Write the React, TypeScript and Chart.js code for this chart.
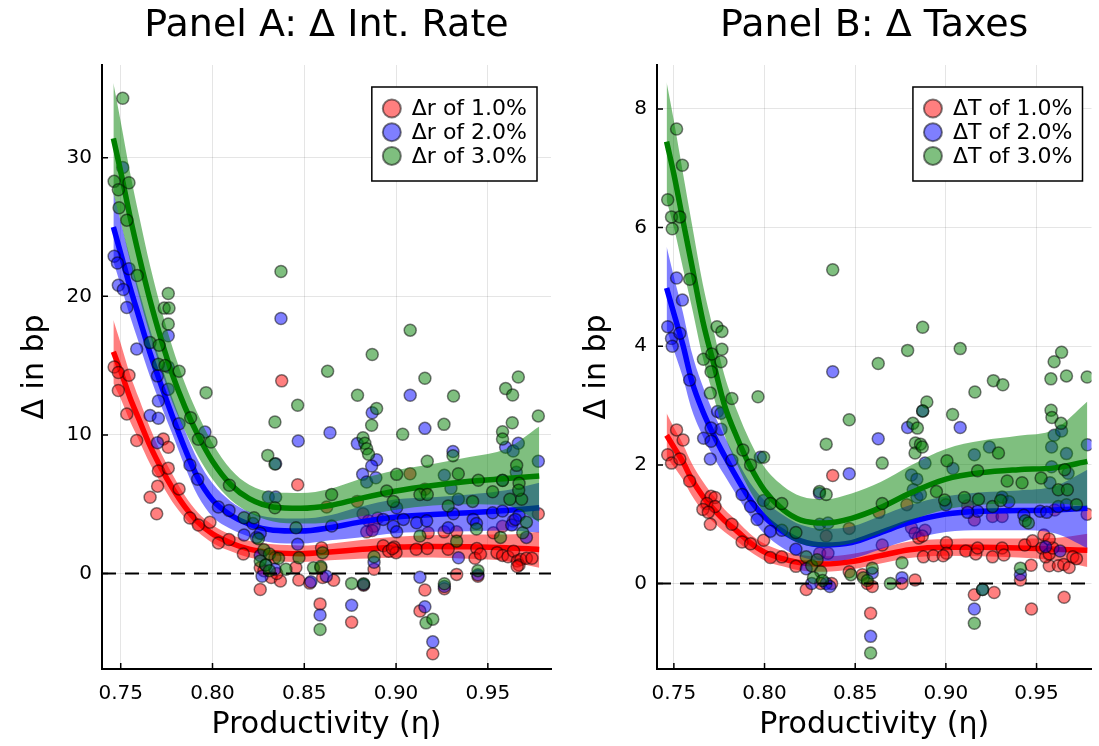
import React, { useEffect, useRef } from "react";
import { Chart, registerables } from "chart.js";
Chart.register(...registerables);

const FONT = "'DejaVu Sans', sans-serif";

// ---------- axes / ticks ----------
const xTicks = [0.75, 0.8, 0.85, 0.9, 0.95];
const yTicksA = [0, 10, 20, 30];
const yTicksB = [0, 2, 4, 6, 8];
const xLimA = [0.7398, 0.9844];
const yLimA = [-6.9, 36.7];
const xLimB = [0.7407, 0.9803];
const yLimB = [-1.44, 8.74];

const labelsA = ["Δr of 1.0%", "Δr of 2.0%", "Δr of 3.0%"];
const labelsB = ["ΔT of 1.0%", "ΔT of 2.0%", "ΔT of 3.0%"];

// ---------- fitted curves (shared eta grid) ----------
const fitEta = [0.746, 0.75, 0.755, 0.76, 0.766, 0.772, 0.778, 0.785, 0.792, 0.8, 0.81, 0.82, 0.833, 0.848, 0.864, 0.88, 0.9, 0.92, 0.94, 0.96, 0.978];

const aRedFit = [16.0, 14.6, 12.7, 11.1, 9.2, 7.6, 6.2, 4.8, 3.7, 2.85, 2.2, 1.75, 1.5, 1.42, 1.55, 1.72, 1.9, 1.95, 1.92, 1.85, 1.73];
const aRedLo = [13.7, 12.6, 11.0, 9.6, 7.9, 6.5, 5.2, 4.0, 3.0, 2.2, 1.6, 1.15, 0.9, 0.82, 0.95, 1.05, 1.15, 1.15, 1.05, 0.9, 0.4];
const aRedHi = [18.3, 16.6, 14.4, 12.6, 10.5, 8.7, 7.2, 5.6, 4.4, 3.5, 2.8, 2.35, 2.1, 2.02, 2.15, 2.4, 2.65, 2.75, 2.8, 2.8, 3.0];
const aBlueFit = [25.0, 23.1, 20.7, 18.5, 15.9, 13.6, 11.4, 9.0, 6.9, 5.3, 4.2, 3.55, 3.12, 3.06, 3.3, 3.7, 4.07, 4.25, 4.38, 4.55, 4.74];
const aBlueLo = [22.5, 20.8, 18.6, 16.6, 14.2, 12.1, 10.1, 7.7, 5.6, 4.1, 3.2, 2.65, 2.22, 2.16, 2.4, 2.6, 2.9, 3.0, 3.05, 3.1, 2.95];
const aBlueHi = [27.5, 25.4, 22.8, 20.4, 17.6, 15.1, 12.7, 10.3, 8.2, 6.5, 5.2, 4.45, 4.02, 3.96, 4.2, 4.8, 5.35, 5.5, 5.7, 6.0, 6.55];
const aGreenFit = [31.4, 29.0, 25.8, 22.9, 19.7, 16.9, 14.4, 12.0, 10.0, 8.1, 6.4, 5.4, 4.8, 4.7, 4.9, 5.4, 5.95, 6.35, 6.65, 6.85, 7.03];
const aGreenLo = [27.4, 25.4, 22.6, 20.0, 17.2, 14.7, 12.4, 10.3, 8.5, 6.8, 5.3, 4.4, 3.75, 3.6, 3.7, 4.1, 4.6, 4.9, 5.0, 4.9, 3.7];
const aGreenHi = [35.4, 32.6, 29.0, 25.8, 22.2, 19.1, 16.4, 13.7, 11.5, 9.4, 7.5, 6.4, 5.85, 5.8, 6.1, 6.8, 7.45, 7.9, 8.4, 9.0, 10.6];

const bRedFit = [2.5, 2.3, 2.05, 1.75, 1.47, 1.25, 1.06, 0.88, 0.69, 0.53, 0.42, 0.35, 0.33, 0.37, 0.47, 0.57, 0.61, 0.61, 0.6, 0.58, 0.56];
const bRedLo = [2.13, 1.97, 1.75, 1.48, 1.22, 1.03, 0.87, 0.71, 0.54, 0.39, 0.29, 0.22, 0.2, 0.24, 0.34, 0.43, 0.47, 0.46, 0.44, 0.39, 0.28];
const bRedHi = [2.87, 2.63, 2.35, 2.02, 1.72, 1.47, 1.25, 1.05, 0.84, 0.67, 0.55, 0.48, 0.46, 0.5, 0.6, 0.71, 0.75, 0.76, 0.76, 0.77, 0.84];
const bBlueFit = [4.98, 4.55, 4.02, 3.4, 2.9, 2.5, 2.15, 1.77, 1.42, 1.12, 0.88, 0.72, 0.65, 0.69, 0.86, 1.03, 1.17, 1.22, 1.23, 1.24, 1.27];
const bBlueLo = [4.28, 3.93, 3.47, 2.92, 2.48, 2.13, 1.82, 1.47, 1.14, 0.84, 0.6, 0.45, 0.38, 0.42, 0.58, 0.74, 0.87, 0.9, 0.9, 0.85, 0.6];
const bBlueHi = [5.68, 5.17, 4.57, 3.88, 3.32, 2.87, 2.48, 2.07, 1.7, 1.4, 1.16, 0.99, 0.92, 0.96, 1.14, 1.32, 1.47, 1.54, 1.57, 1.64, 1.92];
const bGreenFit = [7.45, 6.9, 6.12, 5.35, 4.42, 3.7, 3.0, 2.45, 1.98, 1.57, 1.25, 1.07, 1.02, 1.1, 1.28, 1.52, 1.76, 1.87, 1.92, 1.95, 2.06];
const bGreenLo = [6.45, 6.0, 5.32, 4.65, 3.8, 3.15, 2.5, 2.0, 1.56, 1.18, 0.85, 0.67, 0.62, 0.68, 0.85, 1.06, 1.25, 1.33, 1.35, 1.35, 1.3];
const bGreenHi = [8.45, 7.8, 6.92, 6.05, 5.04, 4.25, 3.5, 2.9, 2.4, 1.96, 1.65, 1.47, 1.42, 1.52, 1.71, 1.98, 2.27, 2.41, 2.49, 2.6, 3.07];

// ---------- scatter points, Panel A ----------
const aRedX = [0.7464,0.7487,0.7545,0.7487,0.7533,0.7587,0.766,0.7696,0.7701,0.7705,0.7732,0.7759,0.7759,0.7818,0.7877,0.7923,0.7986,0.8032,0.809,0.8168,0.8377,0.8464,0.826,0.826,0.832,0.837,0.847,0.853,0.834,0.8454,0.8594,0.828,0.835,0.8622,0.8789,0.9076,0.9157,0.882,0.885,0.888,0.884,0.89,0.887,0.9175,0.9262,0.933,0.953,0.958,0.9638,0.9775,0.893,0.896,0.899,0.9,0.898,0.911,0.917,0.9284,0.944,0.943,0.946,0.955,0.958,0.961,0.964,0.966,0.968,0.967,0.971,0.974,0.966,0.888,0.859,0.86,0.866,0.933,0.9446,0.8823,0.8586,0.8758,0.9157,0.913,0.92,0.9263];
const aRedY = [14.9,14.5,14.3,13.2,11.5,9.6,5.5,4.3,6.3,7.4,9.7,9.1,7.6,6.1,4.0,3.5,3.7,2.2,2.45,1.4,13.9,6.4,0.4,-1.16,-0.3,-0.55,-0.48,-0.7,1.13,0.43,1.85,0.2,0.0,4.8,5.2,7.2,6.07,4.3,3.8,3.4,3.0,4.0,3.1,2.94,3.0,3.0,2.94,3.4,3.78,4.3,2.0,1.6,1.9,1.5,1.8,1.75,1.8,1.75,1.8,1.1,1.4,1.5,1.3,1.2,1.6,0.9,1.0,0.6,1.1,1.1,0.5,0.3,0.4,-0.3,-0.5,-0.07,-0.2,-0.85,-2.2,-3.52,-1.2,-2.72,-5.8,-1.1];
const aBlueX = [0.7511,0.7464,0.7482,0.7545,0.7487,0.7514,0.7533,0.7759,0.7587,0.7759,0.77,0.7759,0.7705,0.766,0.7705,0.7818,0.77,0.7959,0.7877,0.7919,0.8032,0.809,0.8172,0.822,0.824,0.826,0.826,0.829,0.834,0.827,0.8304,0.8344,0.8344,0.8467,0.8464,0.8536,0.864,0.8373,0.887,0.9077,0.9157,0.8789,0.8894,0.9775,0.931,0.9597,0.9638,0.9666,0.8867,0.8818,0.884,0.889,0.9263,0.958,0.9655,0.9299,0.9339,0.8649,0.9003,0.893,0.904,0.8985,0.9003,0.9112,0.9167,0.9284,0.9312,0.942,0.9438,0.9526,0.958,0.963,0.967,0.965,0.971,0.934,0.888,0.862,0.9446,0.8823,0.8586,0.8758,0.913,0.9157,0.92,0.9263];
const aBlueY = [29.3,22.9,22.4,22.0,20.8,20.5,19.2,17.15,16.2,14.9,14.26,13.3,12.45,11.4,11.2,10.8,9.44,10.2,7.83,6.8,4.79,4.55,2.77,3.6,2.6,2.9,1.3,0.6,0.3,-0.2,5.51,5.51,7.92,9.56,2.1,-0.6,10.16,18.4,11.6,12.86,10.47,9.37,8.2,8.1,8.8,9.1,8.84,9.39,7.75,7.15,6.6,6.9,7.08,6.72,7.3,6.14,5.35,3.42,4.74,3.9,3.9,3.4,3.0,3.65,3.8,3.3,4.3,3.9,3.6,4.38,4.5,3.5,4.2,3.9,2.6,1.13,0.8,-0.2,-0.1,-0.8,-3.0,-2.3,-0.27,-2.41,-4.94,-0.95];
const aGreenX = [0.7511,0.7464,0.7487,0.7545,0.7491,0.7533,0.759,0.7759,0.7737,0.7763,0.7759,0.766,0.7709,0.7705,0.7741,0.7818,0.7965,0.7881,0.7923,0.7992,0.8092,0.8172,0.8226,0.8301,0.834,0.8464,0.834,0.8455,0.8471,0.825,0.828,0.831,0.826,0.829,0.836,0.84,0.831,0.855,0.859,0.86,0.834,0.8373,0.8627,0.887,0.9077,0.879,0.9157,0.9313,0.9597,0.9666,0.9635,0.8894,0.8867,0.9036,0.9261,0.9633,0.958,0.958,0.882,0.883,0.884,0.885,0.9775,0.931,0.917,0.9003,0.9339,0.958,0.9657,0.9448,0.967,0.8649,0.8949,0.8985,0.913,0.917,0.9417,0.9526,0.962,0.9684,0.9668,0.9284,0.9438,0.9569,0.969,0.971,0.913,0.933,0.888,0.8758,0.8823,0.9446,0.8586,0.9163,0.92,0.9263];
const aGreenY = [34.3,28.3,27.7,28.2,26.4,25.5,21.5,20.2,19.15,19.15,18.0,16.66,16.47,15.1,15.0,14.6,13.05,11.24,9.68,9.49,6.36,4.02,4.02,8.52,7.9,12.14,10.93,3.3,1.13,2.5,1.7,1.4,0.9,0.6,1.1,0.3,0.2,0.4,0.5,1.5,4.74,21.8,14.6,15.8,17.56,12.86,14.09,12.8,13.34,14.18,12.88,11.9,10.7,10.04,10.76,10.88,10.23,9.7,9.8,9.4,9.0,8.6,11.37,8.5,8.1,7.15,7.2,6.7,7.8,6.72,6.5,5.7,5.95,5.2,5.7,5.7,5.2,5.9,5.35,5.35,6.0,4.86,3.2,2.6,2.94,3.7,2.7,2.33,1.2,-0.72,-0.75,0.2,-4.05,-3.57,-3.3,-0.75];

// ---------- scatter points, Panel B ----------
const bRedX = [0.7515,0.7551,0.7466,0.7487,0.7533,0.7587,0.7705,0.7727,0.7682,0.7727,0.766,0.769,0.7701,0.782,0.7876,0.7923,0.7995,0.8032,0.8095,0.8173,0.8376,0.8467,0.834,0.8304,0.835,0.823,0.831,0.837,0.8467,0.8539,0.8585,0.8785,0.8631,0.912,0.9257,0.931,0.9157,0.96,0.9779,0.881,0.883,0.885,0.8885,0.887,0.9003,0.9003,0.8876,0.8931,0.8985,0.911,0.9165,0.9175,0.9257,0.931,0.932,0.9435,0.9478,0.953,0.957,0.955,0.962,0.965,0.968,0.97,0.972,0.957,0.959,0.954,0.957,0.8649,0.947,0.8567,0.8594,0.8758,0.883,0.9266,0.9157,0.9472,0.9652,0.9411];
const bRedY = [2.59,2.42,2.17,2.03,2.1,1.73,1.47,1.45,1.35,1.3,1.25,1.2,1.0,1.0,0.7,0.67,0.73,0.44,0.45,0.29,1.82,0.93,0.8,0.51,0.51,-0.1,0.0,0.0,0.2,0.15,-0.5,1.33,1.2,1.31,1.13,1.13,1.07,1.24,1.17,0.94,0.85,0.77,0.9,0.8,0.69,0.51,0.45,0.47,0.47,0.55,0.5,0.6,0.45,0.6,0.48,0.65,0.72,0.6,0.3,0.45,0.3,0.32,0.27,0.45,0.42,0.5,0.6,0.82,0.75,0.65,0.31,0.0,-0.05,0.0,0.06,-0.15,-0.19,-0.43,-0.23,0.06];
const bBlueX = [0.7515,0.7547,0.7466,0.7487,0.7533,0.7491,0.7587,0.8376,0.7741,0.776,0.776,0.7705,0.7664,0.7705,0.7701,0.782,0.8467,0.8303,0.7977,0.7876,0.7923,0.7995,0.7959,0.8032,0.8095,0.8173,0.8304,0.835,0.823,0.826,0.834,0.836,0.8585,0.8872,0.9079,0.8627,0.8789,0.9597,0.9638,0.978,0.8885,0.9157,0.924,0.9583,0.9665,0.9583,0.9674,0.881,0.884,0.9,0.9039,0.9574,0.882,0.884,0.886,0.9175,0.912,0.931,0.9347,0.943,0.952,0.9556,0.962,0.9665,0.8594,0.8758,0.9202,0.9157,0.9411,0.955,0.963];
const bBlueY = [5.15,4.78,4.33,4.13,4.22,4.0,3.43,3.57,2.9,2.87,2.6,2.62,2.45,2.4,2.1,2.08,1.85,1.52,2.13,1.5,1.3,1.4,1.08,0.88,0.9,0.58,1.0,1.02,0.25,0.0,0.0,-0.05,-0.89,2.91,2.63,2.44,2.63,2.5,2.57,2.34,2.03,2.17,2.3,2.3,2.19,1.97,1.86,1.83,1.76,1.33,1.94,1.7,1.58,1.46,1.5,1.22,1.2,1.46,1.38,1.15,1.22,1.2,1.3,1.33,0.18,0.1,-0.1,-0.43,0.15,0.62,0.55];
const bGreenX = [0.7515,0.7547,0.7466,0.7487,0.7533,0.7491,0.8376,0.7587,0.7738,0.7765,0.7765,0.7663,0.7709,0.776,0.7705,0.7701,0.782,0.7964,0.8467,0.834,0.8303,0.834,0.7881,0.7923,0.7995,0.8032,0.8095,0.8173,0.823,0.826,0.829,0.831,0.827,0.832,0.8476,0.8545,0.8567,0.8585,0.8872,0.8789,0.9079,0.8627,0.9638,0.9597,0.9665,0.9779,0.9579,0.9262,0.9314,0.916,0.8895,0.8872,0.9037,0.8818,0.8843,0.8832,0.958,0.9585,0.9635,0.883,0.886,0.887,0.8649,0.929,0.9655,0.8948,0.8993,0.9006,0.9175,0.9338,0.942,0.9525,0.962,0.967,0.8649,0.9102,0.918,0.9257,0.9302,0.9438,0.9455,0.972,0.8594,0.8758,0.8694,0.9202,0.9157,0.9411];
const bGreenY = [7.66,7.05,6.47,6.18,6.18,5.98,5.29,5.13,4.33,4.25,3.95,3.78,3.87,3.74,3.57,3.21,3.12,3.15,2.76,2.35,1.55,1.5,2.25,2.0,2.13,1.35,1.35,0.86,0.45,0.3,0.4,0.2,0.1,0.05,0.15,0.1,0.05,-1.17,4.32,3.93,3.96,3.71,3.9,3.74,3.5,3.48,3.45,3.42,3.35,3.23,3.06,2.91,2.85,2.7,2.62,2.37,2.92,2.8,2.7,2.2,2.35,2.3,2.03,2.2,1.92,1.55,1.41,2.07,1.9,1.73,1.7,1.78,1.58,1.58,1.35,1.45,1.42,1.3,1.4,1.06,1.02,1.33,0.26,0.35,0.0,-0.1,-0.67,0.26];

// ---------- styling ----------
const LINE = ["rgb(255,0,0)", "rgb(0,0,255)", "rgb(0,128,0)"];
const TRANSL = ["rgba(255,0,0,0.5)", "rgba(0,0,255,0.5)", "rgba(0,128,0,0.5)"];

type Series = { px: number[]; py: number[]; fit: number[]; lo: number[]; hi: number[] };

function buildDatasets(series: Series[]) {
  const ds: any[] = [];
  const toPts = (xs: number[], ys: number[]) => ys.map((y, i) => ({ x: xs[i], y })).filter((p) => p.x !== undefined);
  series.forEach((s, k) => {
    ds.push({ data: toPts(fitEta, s.lo), showLine: true, borderColor: "transparent", pointRadius: 0, fill: false, cubicInterpolationMode: "monotone" });
    ds.push({ data: toPts(fitEta, s.hi), showLine: true, borderColor: "transparent", pointRadius: 0, fill: "-1", backgroundColor: TRANSL[k], cubicInterpolationMode: "monotone" });
    ds.push({ data: toPts(fitEta, s.fit), showLine: true, borderColor: LINE[k], borderWidth: 5.5, pointRadius: 0, fill: false, cubicInterpolationMode: "monotone", borderCapStyle: "butt" });
    ds.push({ data: toPts(s.px, s.py), showLine: false, pointRadius: 6, pointBackgroundColor: TRANSL[k], pointBorderColor: "rgba(0,0,0,0.5)", pointBorderWidth: 1.5 });
  });
  ds.forEach((d, i) => (d.order = ds.length - i));
  return ds;
}

function decor(title: string, labels: string[], legendGap: number) {
  return {
    id: "decor",
    afterDatasetsDraw(chart: any) {
      const { ctx, chartArea: a, scales } = chart;
      const xs = scales.x;
      const ys = scales.y;
      ctx.save();
      const y0 = ys.getPixelForValue(0);
      ctx.strokeStyle = "#000";
      ctx.lineWidth = 2;
      ctx.setLineDash([14, 9]);
      ctx.beginPath();
      ctx.moveTo(a.left, y0);
      ctx.lineTo(a.right, y0);
      ctx.stroke();
      ctx.setLineDash([]);
      ctx.lineWidth = 1.5;
      ctx.beginPath();
      xs.ticks.forEach((t: any) => {
        const p = xs.getPixelForValue(t.value);
        ctx.moveTo(p, a.bottom);
        ctx.lineTo(p, a.bottom - 6);
      });
      ys.ticks.forEach((t: any) => {
        const p = ys.getPixelForValue(t.value);
        ctx.moveTo(a.left, p);
        ctx.lineTo(a.left + 6, p);
      });
      ctx.stroke();
      // legend
      ctx.font = `22px ${FONT}`;
      const tw = Math.max(...labels.map((l) => ctx.measureText(l).width));
      const w = 40 + tw + 10;
      const h = 94;
      const bx = a.right - legendGap - w;
      const by = a.top + 22;
      ctx.fillStyle = "#fff";
      ctx.fillRect(bx, by, w, h);
      ctx.strokeStyle = "#000";
      ctx.lineWidth = 1.5;
      ctx.strokeRect(bx, by, w, h);
      labels.forEach((l, i) => {
        const cy = by + 21.5 + i * 23.7;
        ctx.beginPath();
        ctx.arc(bx + 20, cy, 9, 0, Math.PI * 2);
        ctx.fillStyle = TRANSL[i];
        ctx.fill();
        ctx.strokeStyle = "rgba(0,0,0,0.5)";
        ctx.lineWidth = 2;
        ctx.stroke();
        ctx.fillStyle = "#000";
        ctx.textAlign = "left";
        ctx.textBaseline = "middle";
        ctx.fillText(l, bx + 40, cy + 1);
      });
      ctx.restore();
    },
    afterDraw(chart: any) {
      const { ctx, chartArea: a } = chart;
      ctx.save();
      ctx.font = `38px ${FONT}`;
      ctx.fillStyle = "#000";
      ctx.textAlign = "center";
      ctx.textBaseline = "middle";
      ctx.fillText(title, (a.left + a.right) / 2, 26);
      ctx.restore();
    },
  };
}

function makeConfig(series: Series[], xLim: number[], yLim: number[], yTicks: number[], padRight: number, yTitlePad: number, title: string, labels: string[], legendGap: number) {
  return {
    type: "scatter",
    data: { datasets: buildDatasets(series) },
    plugins: [decor(title, labels, legendGap)],
    options: {
      animation: false,
      responsive: false,
      events: [],
      layout: { padding: { top: 65, right: padRight, bottom: 0, left: 0 } },
      plugins: { legend: { display: false }, tooltip: { enabled: false }, title: { display: false } },
      scales: {
        x: {
          type: "linear",
          min: xLim[0],
          max: xLim[1],
          afterFit: (s: any) => { s.height = 77; },
          afterBuildTicks: (s: any) => { s.ticks = xTicks.map((v) => ({ value: v })); },
          ticks: { callback: (v: any) => Number(v).toFixed(2), font: { family: FONT, size: 20 }, color: "#000", padding: 13, maxRotation: 0, autoSkip: false },
          grid: { color: "rgba(0,0,0,0.1)", drawTicks: false, lineWidth: 1 },
          border: { display: true, color: "#000", width: 2 },
          title: { display: true, text: "Productivity (η)", font: { family: FONT, size: 30 }, color: "#000", padding: { top: 0, bottom: 3 } },
        },
        y: {
          type: "linear",
          min: yLim[0],
          max: yLim[1],
          afterFit: (s: any) => { s.width = 102; },
          afterBuildTicks: (s: any) => { s.ticks = yTicks.map((v) => ({ value: v })); },
          ticks: { callback: (v: any) => String(v), font: { family: FONT, size: 20 }, color: "#000", padding: 10, autoSkip: false },
          grid: { color: "rgba(0,0,0,0.1)", drawTicks: false, lineWidth: 1 },
          border: { display: true, color: "#000", width: 2 },
          title: { display: true, text: "Δ in bp", font: { family: FONT, size: 30 }, color: "#000", padding: { top: yTitlePad, bottom: 0 } },
        },
      },
    },
  };
}

export default function App() {
  const refA = useRef<HTMLCanvasElement>(null);
  const refB = useRef<HTMLCanvasElement>(null);
  useEffect(() => {
    const seriesA: Series[] = [
      { px: aRedX, py: aRedY, fit: aRedFit, lo: aRedLo, hi: aRedHi },
      { px: aBlueX, py: aBlueY, fit: aBlueFit, lo: aBlueLo, hi: aBlueHi },
      { px: aGreenX, py: aGreenY, fit: aGreenFit, lo: aGreenLo, hi: aGreenHi },
    ];
    const seriesB: Series[] = [
      { px: bRedX, py: bRedY, fit: bRedFit, lo: bRedLo, hi: bRedHi },
      { px: bBlueX, py: bBlueY, fit: bBlueFit, lo: bBlueLo, hi: bBlueHi },
      { px: bGreenX, py: bGreenY, fit: bGreenFit, lo: bGreenLo, hi: bGreenHi },
    ];
    const cA = new Chart(refA.current as any, makeConfig(seriesA, xLimA, yLimA, yTicksA, 9, 17, "Panel A: Δ Int. Rate", labelsA, 14) as any);
    const cB = new Chart(refB.current as any, makeConfig(seriesB, xLimB, yLimB, yTicksB, 2, 24, "Panel B: Δ Taxes", labelsB, 9) as any);
    return () => { cA.destroy(); cB.destroy(); };
  }, []);
  return (
    <div style={{ position: "fixed", left: 0, top: 0, width: 1099, height: 746, background: "#fff" }}>
      <canvas ref={refA} width={560} height={746} style={{ position: "absolute", left: 0, top: 0 }} />
      <canvas ref={refB} width={544} height={746} style={{ position: "absolute", left: 555, top: 0 }} />
    </div>
  );
}
